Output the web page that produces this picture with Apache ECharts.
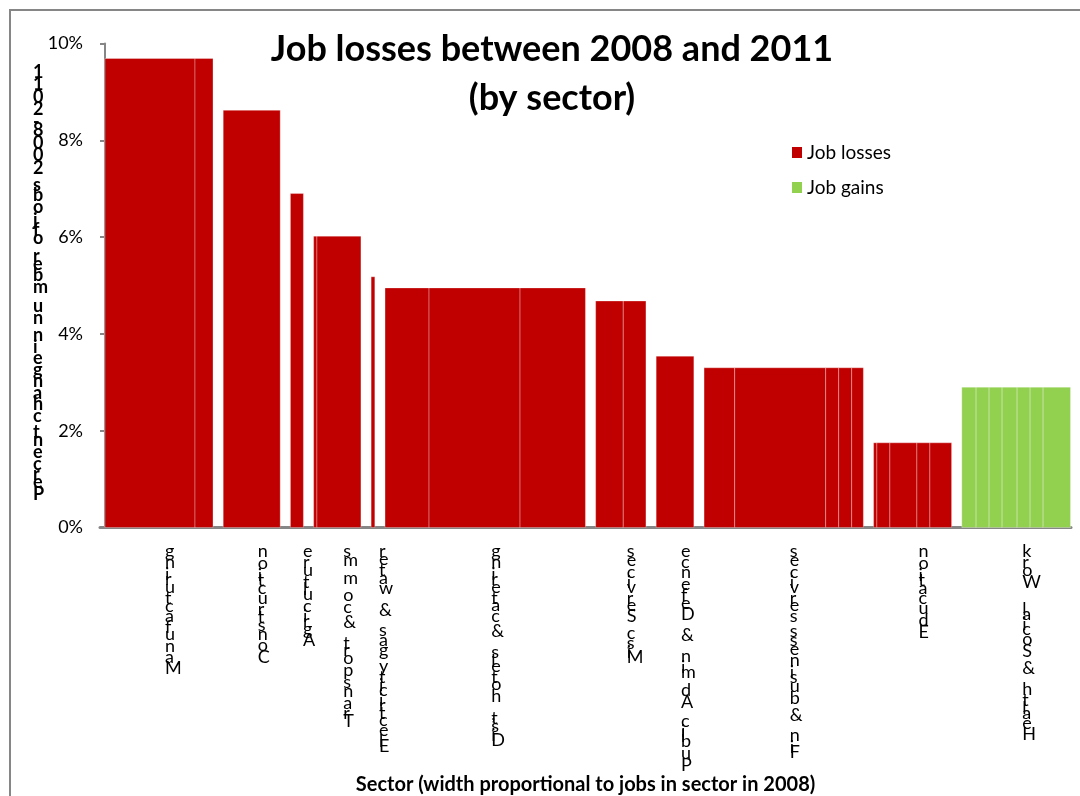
<!DOCTYPE html>
<html>
<head>
<meta charset="utf-8">
<script src="https://cdn.jsdelivr.net/npm/echarts@6/dist/echarts.min.js"></script>
<style>
  html, body { margin: 0; padding: 0; background: #fff; }
  #main { width: 1080px; height: 796px; }
</style>
</head>
<body>
<div id="main"></div>
<script>
// sectors, in chart order
const sectors = [
  "Manufacturing",
  "Construction",
  "Agriculture",
  "Transport & comms",
  "Electricity gas & water",
  "Dist, hotels & catering",
  "Misc Services",
  "Public Admin & Defence",
  "Fin & business services",
  "Education",
  "Health & Social Work",
];
// jobs in 2008 per sub-sector (relative units) -> bar widths
const subJobs = [
  [90, 18],
  [57],
  [13],
  [3.3, 44],
  [3.7],
  [44, 91, 65.4],
  [27.6, 22.7],
  [37.7],
  [30.6, 91, 13, 13, 11.7],
  [3.3, 13, 27, 13, 21.7],
  [14.3, 13, 13, 15, 13, 13, 27.4],
];
// percent change in number of jobs 2008-2011
const pctChange = [-9.69, -8.62, -6.9, -6.02, -5.18, -4.95, -4.68, -3.54, -3.3, -1.75, 2.9];

const FONT = "Lato";
const LABEL_FONT = "18px " + FONT;
const YTITLE_FONT = "bold 18px " + FONT;
const GAP = 10.2;

// cumulative x positions
let cursor = 0;
const rows = sectors.map((name, i) => {
  const w = subJobs[i].reduce((a, b) => a + b, 0);
  const row = [cursor, cursor + w, Math.abs(pctChange[i]), i];
  cursor += w + GAP;
  return row;
});
const xEnd = cursor - GAP;

// Excel-ish stacked text: string reversed, one upright glyph per slot of its own width
const measureCtx = document.createElement("canvas").getContext("2d");
function stackChars(str, font, scale) {
  measureCtx.font = font;
  const out = [];
  let off = 0;
  str.split("").reverse().forEach((ch) => {
    out.push({ ch, off });
    off += measureCtx.measureText(ch).width * scale;
  });
  return out;
}

function renderBar(params, api) {
  const i = api.value(3);
  const x0 = api.value(0);
  const v = api.value(2);
  const children = [];
  let x = x0;
  subJobs[i].forEach((w) => {
    const p0 = api.coord([x, v]);
    const p1 = api.coord([x + w, 0]);
    children.push({
      type: "rect",
      shape: { x: p0[0], y: p0[1], width: p1[0] - p0[0], height: p1[1] - p0[1] },
      style: { fill: api.visual("color"), stroke: "rgba(255,255,255,0.3)", lineWidth: 1 },
    });
    x += w;
  });
  const mid = api.coord([(x0 + api.value(1)) / 2, 0]);
  stackChars(sectors[i], LABEL_FONT, 1.17).forEach((c) => {
    children.push({
      type: "text",
      style: {
        text: c.ch,
        x: mid[0] + 6,
        y: mid[1] + 15 + c.off,
        font: LABEL_FONT,
        fill: "#000",
        align: "left",
        verticalAlign: "top",
      },
    });
  });
  return { type: "group", children };
}

const yTitle = stackChars("Percent change in number of jobs 2008-2011", YTITLE_FONT, 1.2).map((c) => ({
  type: "text",
  left: 33,
  top: 63 + c.off,
  style: { text: c.ch, font: YTITLE_FONT, fill: "#000" },
}));

const chart = echarts.init(document.getElementById("main"));
chart.setOption({
  animation: false,
  backgroundColor: "#fff",
  title: {
    text: "Job losses between 2008 and 2011\n(by sector)",
    left: 547,
    top: 20,
    textAlign: "center",
    textStyle: { fontFamily: FONT, fontSize: 36, fontWeight: "bold", lineHeight: 49, color: "#000" },
  },
  legend: {
    data: ["Job losses", "Job gains"],
    orient: "vertical",
    left: 787,
    top: 138,
    icon: "rect",
    itemWidth: 10,
    itemHeight: 11,
    itemGap: 16,
    textStyle: { fontFamily: FONT, fontSize: 19, color: "#000" },
  },
  grid: { left: 100, right: 9, top: 43.5, bottom: 268.5, outerBoundsMode: "none" },
  xAxis: {
    type: "value",
    min: -5,
    max: xEnd + 0.5,
    name: "Sector (width proportional to jobs in sector in 2008)",
    nameLocation: "middle",
    nameGap: 247,
    nameTextStyle: { fontFamily: FONT, fontSize: 20, fontWeight: "bold", color: "#000" },
    axisLine: { show: true, lineStyle: { color: "#868686", width: 3 } },
    axisTick: { show: false },
    axisLabel: { show: false },
    splitLine: { show: false },
  },
  yAxis: {
    type: "value",
    min: 0,
    max: 10,
    interval: 2,
    axisLine: { show: true, lineStyle: { color: "#868686", width: 2 } },
    axisTick: { show: true, length: 5, lineStyle: { color: "#868686", width: 2 } },
    axisLabel: { formatter: "{value}%", fontFamily: FONT, fontSize: 18, color: "#000", margin: 17 },
    splitLine: { show: false },
  },
  graphic: [
    {
      type: "rect",
      shape: { x: 10, y: 10, width: 1200, height: 900 },
      style: { fill: "none", stroke: "#868686", lineWidth: 2 },
      z: -1,
    },
    ...yTitle,
  ],
  series: [
    {
      name: "Job losses",
      type: "custom",
      renderItem: renderBar,
      itemStyle: { color: "#C00000" },
      encode: { x: [0, 1], y: 2 },
      data: rows.filter((r) => pctChange[r[3]] < 0),
    },
    {
      name: "Job gains",
      type: "custom",
      renderItem: renderBar,
      itemStyle: { color: "#92D050" },
      encode: { x: [0, 1], y: 2 },
      data: rows.filter((r) => pctChange[r[3]] > 0),
    },
  ],
});
window.addEventListener("resize", () => chart.resize());
</script>
</body>
</html>
